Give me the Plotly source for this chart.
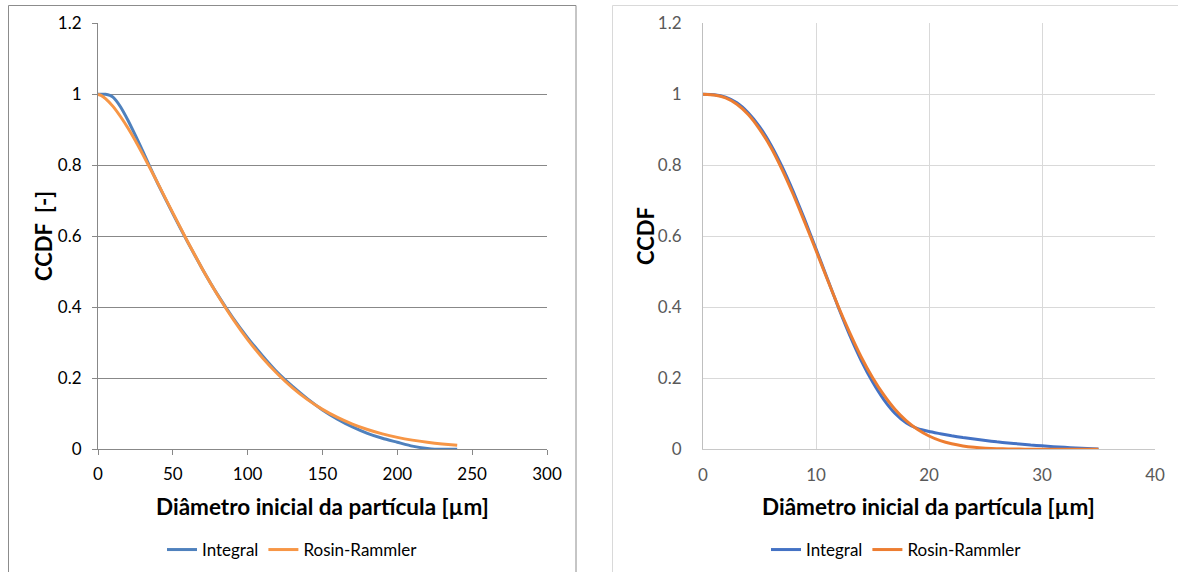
import plotly.graph_objects as go

W, H = 1178, 572

# ---- Left chart data (Excel 2010 style) ----
left_d = [0, 5, 8, 10, 12, 15, 20, 25, 30, 35, 40, 50, 60, 70, 80, 90, 100, 110, 120,
          130, 140, 150, 160, 170, 180, 190, 200, 210, 220, 225, 230, 240]
left_integral = [1.0, 1.0, 0.997, 0.992, 0.983, 0.965, 0.927, 0.884, 0.839, 0.793, 0.748,
                 0.664, 0.583, 0.506, 0.435, 0.371, 0.314, 0.263, 0.216, 0.177, 0.142,
                 0.111, 0.085, 0.063, 0.045, 0.031, 0.02, 0.009, 0.002, 0.0, 0.0, 0.0]
left_rr_d = [0, 2, 5, 10, 15, 20, 25, 30, 35, 40, 50, 60, 70, 80, 90, 100, 110, 120, 130,
             140, 150, 160, 170, 180, 190, 200, 210, 220, 230, 240]
left_rr = [1.0, 0.997, 0.988, 0.966, 0.9375, 0.905, 0.869, 0.83, 0.79, 0.749, 0.666, 0.584,
           0.506, 0.434, 0.368, 0.309, 0.257, 0.212, 0.173, 0.14, 0.1125, 0.0897, 0.0709,
           0.0557, 0.0434, 0.0336, 0.0258, 0.0197, 0.015, 0.0113]

# ---- Right chart data (Excel 2013 style) ----
right_d = [0, 1, 2, 3, 4, 5, 6, 7, 8, 9, 10, 11, 12, 13, 14, 15, 16, 17, 18, 19,
           20, 21, 22, 23, 24, 25, 26, 27, 28, 29, 30, 31, 32, 33, 34, 35]
right_integral = [1.0, 0.999, 0.992, 0.976, 0.948, 0.909, 0.858, 0.796, 0.725, 0.647,
                  0.565, 0.481, 0.398, 0.32, 0.25, 0.19, 0.14, 0.101, 0.074, 0.058,
                  0.05, 0.044, 0.038, 0.033, 0.029, 0.025, 0.021, 0.018, 0.015, 0.012,
                  0.01, 0.0075, 0.0055, 0.0035, 0.002, 0.001]
right_rr = [1.0, 0.998, 0.99, 0.972, 0.943, 0.902, 0.851, 0.788, 0.717, 0.64, 0.56,
            0.479, 0.4, 0.327, 0.26, 0.202, 0.153, 0.112, 0.08, 0.0556, 0.0375, 0.0245,
            0.0155, 0.0095, 0.0056, 0.0032, 0.0018, 0.001, 0.0005, 0.0002, 0.0001, 0.0,
            0.0, 0.0, 0.0, 0.0]

series_names = ["Integral", "Rosin-Rammler"]
x_title = "Diâmetro inicial da partícula [µm]"
left_y_title = "CCDF\u00a0\u00a0[-]"
right_y_title = "CCDF"

FONT = "Lato, 'Open Sans', sans-serif"

def px(x):
    return x / W

def py(y):
    return 1 - y / H

fig = go.Figure()

LW = 3
fig.add_trace(go.Scatter(x=left_d, y=left_integral, mode="lines", name=series_names[0],
                         line=dict(color="#4F81BD", width=LW, shape="spline", smoothing=0.5),
                         xaxis="x", yaxis="y", legend="legend"))
fig.add_trace(go.Scatter(x=left_rr_d, y=left_rr, mode="lines", name=series_names[1],
                         line=dict(color="#F79646", width=LW, shape="spline", smoothing=0.5),
                         xaxis="x", yaxis="y", legend="legend"))
fig.add_trace(go.Scatter(x=right_d, y=right_integral, mode="lines", name=series_names[0],
                         line=dict(color="#4472C4", width=LW, shape="spline", smoothing=0.5),
                         xaxis="x2", yaxis="y2", legend="legend2"))
fig.add_trace(go.Scatter(x=right_d, y=right_rr, mode="lines", name=series_names[1],
                         line=dict(color="#ED7D31", width=LW, shape="spline", smoothing=0.5),
                         xaxis="x2", yaxis="y2", legend="legend2"))

left_grid = "#888888"
right_grid = "#D9D9D9"
TF = 17

fig.update_layout(
    template="none",
    width=W, height=H, autosize=False,
    margin=dict(l=0, r=0, t=0, b=0, pad=0, autoexpand=False),
    paper_bgcolor="white", plot_bgcolor="white",
    font=dict(family=FONT, size=TF, color="black"),
    xaxis=dict(domain=[px(98), px(547)], range=[0, 300], dtick=50, showgrid=False,
               zeroline=False, showline=True, linecolor=left_grid, linewidth=1,
               ticks="outside", ticklen=5, tickcolor=left_grid, automargin=False,
               tickfont=dict(size=TF, color="black"), anchor="y",
               ticklabelstandoff=4),
    yaxis=dict(domain=[py(449.3), py(23.3)], range=[0, 1.2], dtick=0.2, showgrid=True,
               gridcolor=left_grid, gridwidth=1, zeroline=False, showline=True,
               linecolor=left_grid, automargin=False,
               ticks="outside", ticklen=5, tickcolor=left_grid,
               tickfont=dict(size=TF, color="black"), anchor="x",
               ticklabelstandoff=7),
    xaxis2=dict(domain=[px(703), px(1155)], range=[0, 40], dtick=10, showgrid=True,
                gridcolor=right_grid, gridwidth=1, zeroline=False, showline=True,
                linecolor="#C8C8C8", automargin=False,
                ticks="", tickfont=dict(size=TF, color="#595959"), anchor="y2",
                ticklabelstandoff=10),
    yaxis2=dict(domain=[py(449.3), py(23.3)], range=[0, 1.2], dtick=0.2, showgrid=True,
                gridcolor=right_grid, gridwidth=1, zeroline=False, showline=True,
                linecolor="#BFBFBF", automargin=False,
                ticks="", tickfont=dict(size=TF, color="#595959"), anchor="x2",
                ticklabelstandoff=17),
    showlegend=True,
    legend=dict(orientation="h", x=px(162), y=py(550), xanchor="left", yanchor="middle",
                font=dict(size=TF, color="black"), bgcolor="rgba(0,0,0,0)", borderwidth=0),
    legend2=dict(orientation="h", x=px(766), y=py(550), xanchor="left", yanchor="middle",
                 font=dict(size=TF, color="black"), bgcolor="rgba(0,0,0,0)", borderwidth=0),
    shapes=[
        dict(type="rect", xref="paper", yref="paper", x0=px(8.5), x1=px(576),
             y0=-0.05, y1=py(5.5), line=dict(color="#8C8C8C", width=1)),
        dict(type="rect", xref="paper", yref="paper", x0=px(612.5), x1=1.05,
             y0=-0.05, y1=py(5.5), line=dict(color="#D9D9D9", width=1)),
    ],
    annotations=[
        dict(text="<b>%s</b>" % x_title, xref="paper", yref="paper", x=px(322.5), y=py(506),
             showarrow=False, font=dict(size=22.5, color="black"), xanchor="center", yanchor="middle"),
        dict(text="<b>%s</b>" % x_title, xref="paper", yref="paper", x=px(929), y=py(506),
             showarrow=False, font=dict(size=22.5, color="black"), xanchor="center", yanchor="middle"),
        dict(text="<b>%s</b>" % left_y_title, xref="paper", yref="paper", x=px(43), y=py(236),
             showarrow=False, textangle=-90, font=dict(size=22, color="black"),
             xanchor="center", yanchor="middle"),
        dict(text="<b>%s</b>" % right_y_title, xref="paper", yref="paper", x=px(645), y=py(236),
             showarrow=False, textangle=-90, font=dict(size=22, color="black"),
             xanchor="center", yanchor="middle"),
    ],
)

fig.write_html("out.html")
